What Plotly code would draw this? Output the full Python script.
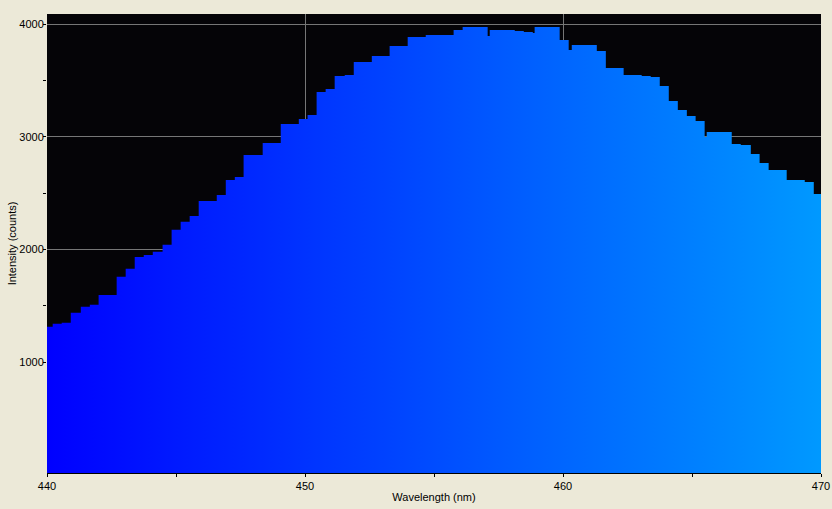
import plotly.graph_objects as go

# Left edge wavelength of each step (nm) and its intensity (counts)
wavelength = [
    440.00, 440.22, 440.57, 440.92, 441.31, 441.66, 442.00, 442.70, 443.05, 443.40,
    443.75, 444.10, 444.48, 444.83, 445.18, 445.53, 445.88, 446.58, 446.93, 447.28,
    447.62, 448.36, 449.06, 449.76, 450.10, 450.45, 450.80, 451.15, 451.54, 451.89,
    452.59, 453.28, 453.98, 454.68, 455.76, 456.11, 457.08, 457.16, 458.13, 458.48,
    458.83, 458.90, 459.87, 460.22, 460.34, 461.31, 461.66, 462.35, 463.05, 463.40,
    463.75, 464.10, 464.45, 464.80, 465.14, 465.49, 465.57, 466.54, 466.89, 467.28,
    467.62, 467.97, 468.67, 469.37, 469.72,
]
intensity = [
    1315, 1341, 1350, 1439, 1492, 1510, 1598, 1758, 1829, 1935,
    1953, 1980, 2042, 2175, 2246, 2299, 2432, 2485, 2618, 2644,
    2840, 2946, 3114, 3159, 3194, 3398, 3425, 3540, 3549, 3664,
    3717, 3806, 3886, 3903, 3948, 3974, 3895, 3948, 3939, 3930,
    3921, 3974, 3859, 3770, 3815, 3761, 3611, 3549, 3540, 3531,
    3451, 3318, 3238, 3185, 3141, 2999, 3043, 2937, 2928, 2848,
    2769, 2707, 2618, 2600, 2494,
]
x_end = 470.0

x_ticks = [440, 450, 460, 470]
y_ticks = [1000, 2000, 3000, 4000]

xs = wavelength + [x_end]
ys = intensity + [intensity[-1]]

FONT = "Liberation Sans, Arial, sans-serif"
GRID = "#767676"

fig = go.Figure()
fig.add_trace(go.Scatter(
    x=xs, y=ys,
    mode="lines",
    line=dict(shape="hv", width=0, color="rgba(0,0,0,0)"),
    fill="tozeroy",
    fillgradient=dict(type="horizontal",
                      colorscale=[[0, "#0000FF"], [0.5, "#004CFF"], [1, "#0099FF"]]),
    hoverinfo="skip",
    showlegend=False,
))

fig.update_layout(
    width=832, height=509,
    margin=dict(l=47, r=11, t=14, b=36, autoexpand=False),
    paper_bgcolor="#ECE9D8",
    plot_bgcolor="#050407",
    font=dict(family=FONT, size=11, color="#000000"),
    showlegend=False,
)

fig.update_xaxes(
    range=[440, 470],
    automargin=False,
    tickvals=x_ticks,
    ticktext=[str(v) for v in x_ticks],
    ticks="outside", ticklen=3, tickcolor="#000000", tickwidth=1,
    minor=dict(tickvals=[445, 455, 465], ticks="outside", ticklen=3,
               tickcolor="#000000", showgrid=False),
    showgrid=True, gridcolor=GRID, gridwidth=1,
    showline=True, linecolor="#000000", linewidth=1,
    zeroline=False,
    title=dict(text="Wavelength (nm)", standoff=2, font=dict(size=11)),
    tickfont=dict(size=11),
)
fig.update_yaxes(
    range=[18, 4090],
    automargin=False,
    tickvals=y_ticks,
    ticktext=[str(v) for v in y_ticks],
    ticks="outside", ticklen=3, tickcolor="#000000", tickwidth=1,
    ticklabelstandoff=-3,
    minor=dict(tickvals=[1500, 2500, 3500], ticks="outside", ticklen=3,
               tickcolor="#000000", showgrid=False),
    showgrid=True, gridcolor=GRID, gridwidth=1,
    showline=False, zeroline=False,
    title=dict(text="Intensity (counts)", standoff=0, font=dict(size=11)),
    tickfont=dict(size=11),
)

fig.write_html(
    "out.html",
    config={"displayModeBar": False},
    post_script="document.body.style.margin='0';document.body.style.background='#ECE9D8';",
)
